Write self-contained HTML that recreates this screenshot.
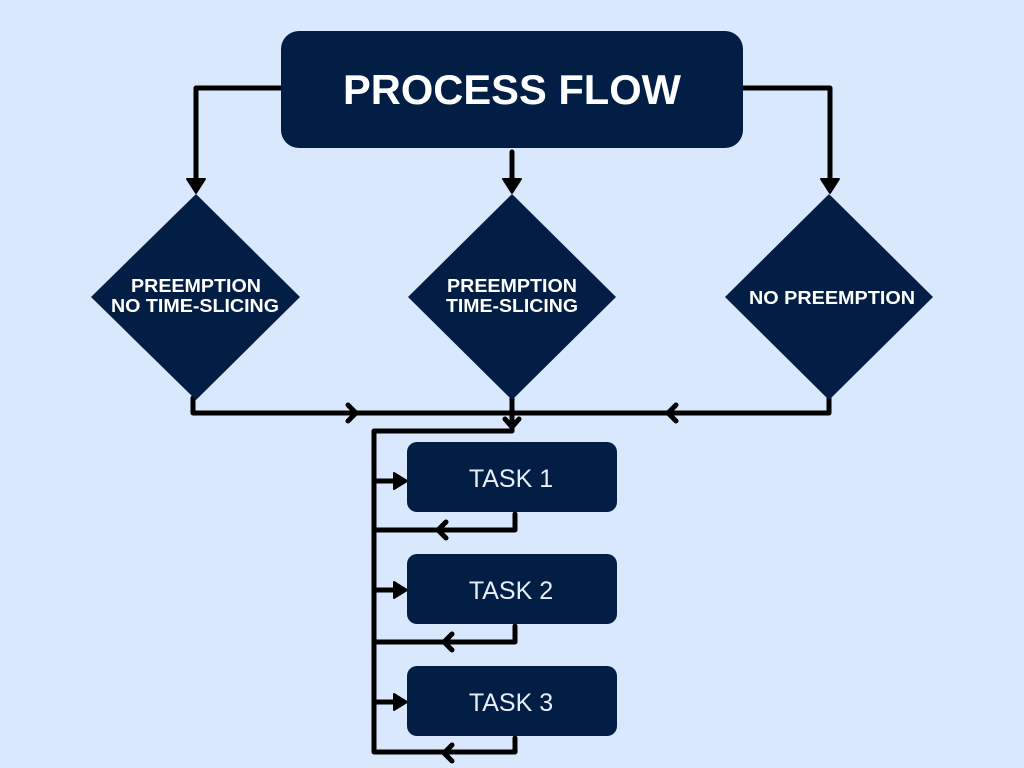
<!DOCTYPE html>
<html><head><style>
html,body{margin:0;padding:0;background:#dae8fd;}
svg{display:block}
</style></head><body>
<svg width="1024" height="768" viewBox="0 0 1024 768" xmlns="http://www.w3.org/2000/svg">
<rect width="1024" height="768" fill="#dae8fd"/>
<g stroke="#000" stroke-width="5" fill="none" stroke-linejoin="round" stroke-linecap="round">
<path d="M282 88 H196 V180"/>
<path d="M742 88 H830 V180"/>
<path d="M512 152 V180"/>
<path d="M193 398 V413 H829 V398"/>
<path d="M512 398 V431 H374 V752 H515 V738"/>
<path d="M374 530 H515 V514"/>
<path d="M374 642 H515 V626"/>
<path d="M374 481 H395 M374 590 H395 M374 702 H395"/>
<path d="M348 405 L356 413 L348 421"/>
<path d="M676 405 L668 413 L676 421"/>
<path d="M505 419 L512 427 L519 419"/>
<path d="M446 522 L438 530 L446 538"/>
<path d="M452 634 L444 642 L452 650"/>
<path d="M452 745 L444 753 L452 761"/>
</g>
<g fill="#000" stroke="#000" stroke-width="2" stroke-linejoin="round">
<polygon points="187,179 205,179 196,193"/>
<polygon points="821,179 839,179 830,193"/>
<polygon points="503,179 521,179 512,193"/>
<polygon points="394,473 394,489 407,481"/>
<polygon points="394,582 394,598 407,590"/>
<polygon points="394,694 394,710 407,702"/>
</g>
<g fill="#031e45">
<rect x="281" y="31" width="462" height="117" rx="18"/>
<polygon points="196,194 300,297 196,400 91,297"/>
<polygon points="512,194 616,297 512,400 408,297"/>
<polygon points="829,194 933,297 829,400 725,297"/>
<rect x="407" y="442" width="210" height="70" rx="10"/>
<rect x="407" y="554" width="210" height="70" rx="10"/>
<rect x="407" y="666" width="210" height="70" rx="10"/>
</g>
<g fill="#fff" font-family="Liberation Sans, sans-serif" text-anchor="middle">
<text x="512" y="104" font-size="42" font-weight="bold" textLength="338" lengthAdjust="spacingAndGlyphs">PROCESS FLOW</text>
<g font-size="18" font-weight="bold">
<text x="196" y="292" textLength="130" lengthAdjust="spacingAndGlyphs">PREEMPTION</text>
<text x="195" y="312" textLength="168" lengthAdjust="spacingAndGlyphs">NO TIME-SLICING</text>
<text x="512" y="292" textLength="130" lengthAdjust="spacingAndGlyphs">PREEMPTION</text>
<text x="512" y="312" textLength="132" lengthAdjust="spacingAndGlyphs">TIME-SLICING</text>
<text x="832" y="304" textLength="166" lengthAdjust="spacingAndGlyphs">NO PREEMPTION</text>
</g>
<g font-size="25" fill="#e8eef8">
<text x="511" y="487">TASK 1</text>
<text x="511" y="599">TASK 2</text>
<text x="511" y="711">TASK 3</text>
</g>
</g>
</svg>
</body></html>
